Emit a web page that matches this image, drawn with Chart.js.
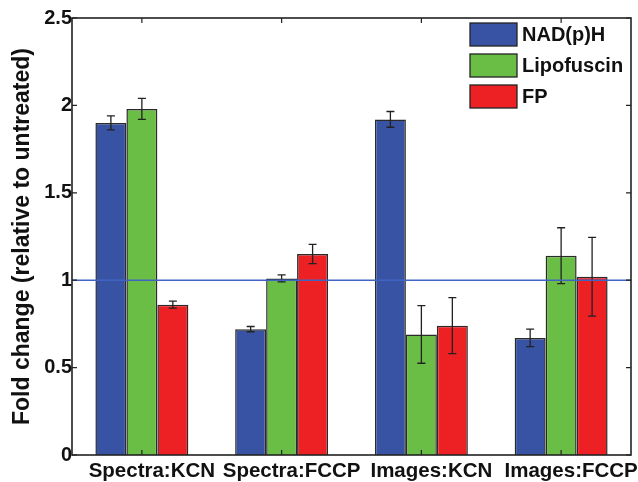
<!DOCTYPE html>
<html>
<head>
<meta charset="utf-8">
<script src="https://cdn.jsdelivr.net/npm/chart.js@4"></script>
<style>
  body { margin: 0; background: #fff; }
  canvas { display: block; }
</style>
</head>
<body>
<canvas id="grafico" width="638" height="482"></canvas>
<script>
// datos
const categorias = ['Spectra:KCN', 'Spectra:FCCP', 'Images:KCN', 'Images:FCCP'];
const series = ['NAD(p)H', 'Lipofuscin', 'FP'];
const nadh = [1.90, 0.72, 1.92, 0.67];
const nadhErr = [0.04, 0.015, 0.045, 0.05];
const lipo = [1.98, 1.01, 0.69, 1.14];
const lipoErr = [0.06, 0.02, 0.165, 0.16];
const fp = [0.86, 1.15, 0.74, 1.02];
const fpErr = [0.02, 0.055, 0.16, 0.225];
const yTicks = [0, 0.5, 1, 1.5, 2, 2.5];
const referencia = 1;

const colores = ['#3953a4', '#6bbe45', '#ed2024'];
const fuente = "'Liberation Sans', Arial, sans-serif";

// error bars
const errorBars = {
    id: 'errorBars',
    afterDatasetsDraw(chart) {
        const ctx = chart.ctx;
        const y = chart.scales.y;
        ctx.save();
        ctx.strokeStyle = '#222';
        ctx.lineWidth = 1.3;
        chart.data.datasets.forEach((ds, i) => {
            const meta = chart.getDatasetMeta(i);
            meta.data.forEach((bar, j) => {
                const v = ds.data[j], e = ds.errores[j];
                const y1 = y.getPixelForValue(v + e);
                const y2 = y.getPixelForValue(v - e);
                ctx.beginPath();
                ctx.moveTo(bar.x, y1); ctx.lineTo(bar.x, y2);
                ctx.moveTo(bar.x - 4, y1); ctx.lineTo(bar.x + 4, y1);
                ctx.moveTo(bar.x - 4, y2); ctx.lineTo(bar.x + 4, y2);
                ctx.stroke();
            });
        });
        ctx.restore();
    }
};

// linea en 1, marco y ticks internos
const marco = {
    id: 'marco',
    afterDraw(chart) {
        const ctx = chart.ctx;
        const a = chart.chartArea;
        const x = chart.scales.x, y = chart.scales.y;
        ctx.save();
        ctx.strokeStyle = '#4064c4';
        ctx.lineWidth = 1.4;
        const yr = y.getPixelForValue(referencia);
        ctx.beginPath();
        ctx.moveTo(a.left, yr); ctx.lineTo(a.right, yr);
        ctx.stroke();

        ctx.strokeStyle = '#222';
        ctx.lineWidth = 1.2;
        ctx.beginPath();
        yTicks.forEach(t => {
            const p = y.getPixelForValue(t);
            ctx.moveTo(a.left, p); ctx.lineTo(a.left + 5, p);
            ctx.moveTo(a.right, p); ctx.lineTo(a.right - 5, p);
        });
        categorias.forEach((c, i) => {
            const p = x.getPixelForValue(i);
            ctx.moveTo(p, a.top); ctx.lineTo(p, a.top + 5);
            ctx.moveTo(p, a.bottom); ctx.lineTo(p, a.bottom - 5);
        });
        ctx.stroke();

        ctx.lineWidth = 1.6;
        ctx.strokeRect(a.left, a.top, a.right - a.left, a.bottom - a.top);
        ctx.restore();
    }
};

// leyenda dentro del area
const leyenda = {
    id: 'leyenda',
    afterDraw(chart) {
        const ctx = chart.ctx;
        ctx.save();
        ctx.font = 'bold 20px ' + fuente;
        ctx.textBaseline = 'middle';
        chart.data.datasets.forEach((ds, i) => {
            const top = 23 + i * 31;
            ctx.fillStyle = ds.backgroundColor;
            ctx.fillRect(470, top, 47, 23);
            ctx.strokeStyle = '#222';
            ctx.lineWidth = 1.3;
            ctx.strokeRect(470, top, 47, 23);
            ctx.fillStyle = '#111';
            ctx.fillText(ds.label, 522, top + 12);
        });
        ctx.restore();
    }
};

function dataset(label, data, errores, color) {
    return {
        label: label,
        data: data,
        errores: errores,
        backgroundColor: color,
        borderColor: '#2a2a2a',
        borderWidth: 1.5,
        categoryPercentage: 0.665,
        barPercentage: 1.0
    };
}

const ctx = document.getElementById('grafico');
const myChart = new Chart(ctx, {
    type: 'bar',
    data: {
        labels: categorias,
        datasets: [
            dataset(series[0], nadh, nadhErr, colores[0]),
            dataset(series[1], lipo, lipoErr, colores[1]),
            dataset(series[2], fp, fpErr, colores[2])
        ]
    },
    options: {
        responsive: false,
        animation: false,
        devicePixelRatio: 1,
        layout: { padding: { top: 18, right: 7, left: 0, bottom: 0 } },
        plugins: {
            legend: { display: false },
            tooltip: { enabled: false }
        },
        scales: {
            x: {
                grid: { display: false, drawTicks: false },
                border: { display: false },
                ticks: {
                    color: '#111',
                    font: { family: fuente, size: 20.5, weight: 'bold' },
                    maxRotation: 0,
                    autoSkip: false,
                    labelOffset: 10,
                    padding: 4
                },
                afterFit(scale) { scale.height = 27; }
            },
            y: {
                min: 0,
                max: 2.5,
                grid: { display: false, drawTicks: false },
                border: { display: false },
                ticks: {
                    stepSize: 0.5,
                    color: '#111',
                    font: { family: fuente, size: 20, weight: 'bold' },
                    padding: 0,
                    callback: (v) => String(v)
                },
                title: {
                    display: true,
                    text: 'Fold change (relative to untreated)',
                    color: '#111',
                    font: { family: fuente, size: 23, weight: 'bold' },
                    padding: { top: 9, bottom: 0 }
                },
                afterFit(scale) { scale.width = 72; }
            }
        }
    },
    plugins: [errorBars, marco, leyenda]
});
</script>
</body>
</html>
